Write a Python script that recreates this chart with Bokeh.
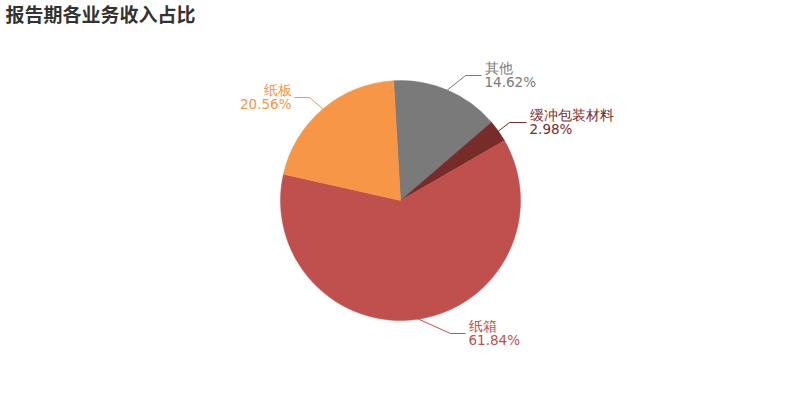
from math import radians, cos, sin
from bokeh.plotting import figure
from bokeh.models import Range1d
from bokeh.core.properties import value
from bokeh.embed import file_html
from bokeh.resources import INLINE

title = "报告期各业务收入占比"
categories = ["其他", "缓冲包装材料", "纸箱", "纸板"]
shares = [14.62, 2.98, 61.84, 20.56]
colors = ["#7a7a7a", "#772c2a", "#c0504d", "#f79646"]

# layout (picture pixel coordinates; y downwards, stored negated)
W, H = 784, 384
CX, CY, R = 400, 200, 120
START_DEG = 93.3
# leader line elbow / end points and text side for each label
elbows = [(465, 75), (509, 122), (450, 333), (309, 97)]
ends = [(481, 75), (526, 122), (465, 333), (294, 97)]
sides = ["left", "left", "left", "right"]

p = figure(width=W, height=H, output_backend="svg", toolbar_location=None,
           x_range=Range1d(0, W), y_range=Range1d(-H, 0),
           min_border=0, title=None, x_axis_location=None, y_axis_location=None)
p.grid.visible = False
p.outline_line_color = None
p.background_fill_color = "white"
p.border_fill_color = "white"

total = sum(shares)
a = START_DEG
starts, stops, mids = [], [], []
for s in shares:
    span = s / total * 360.0
    starts.append(radians(a))
    stops.append(radians(a - span))
    mids.append(radians(a - span / 2))
    a -= span

p.wedge(x=CX, y=-CY, radius=R, start_angle=starts, end_angle=stops,
        direction="clock", fill_color=colors, line_color=colors, line_width=0.5)

font = value("DejaVu Sans")
for cat, s, col, m, el, en, side in zip(categories, shares, colors, mids, elbows, ends, sides):
    rx, ry = CX + R * cos(m), CY - R * sin(m)
    p.line([rx, el[0], en[0]], [-ry, -el[1], -en[1]], line_color=col, line_width=1)
    tx = en[0] + 3 if side == "left" else en[0] - 3
    p.text(x=[tx, tx], y=[-(en[1] - 8), -(en[1] + 6)],
           text=[cat, f"{s:.2f}%"], text_color=col, text_font=font,
           text_font_size="13.5px", text_align=side, text_baseline="middle")

p.text(x=[5], y=[-13], text=[title], text_color="#333333",
       text_font=value("Noto Sans CJK SC"), text_font_size="19px",
       text_font_style="bold", text_align="left", text_baseline="middle")

open("out.html", "w").write(file_html(p, INLINE))
